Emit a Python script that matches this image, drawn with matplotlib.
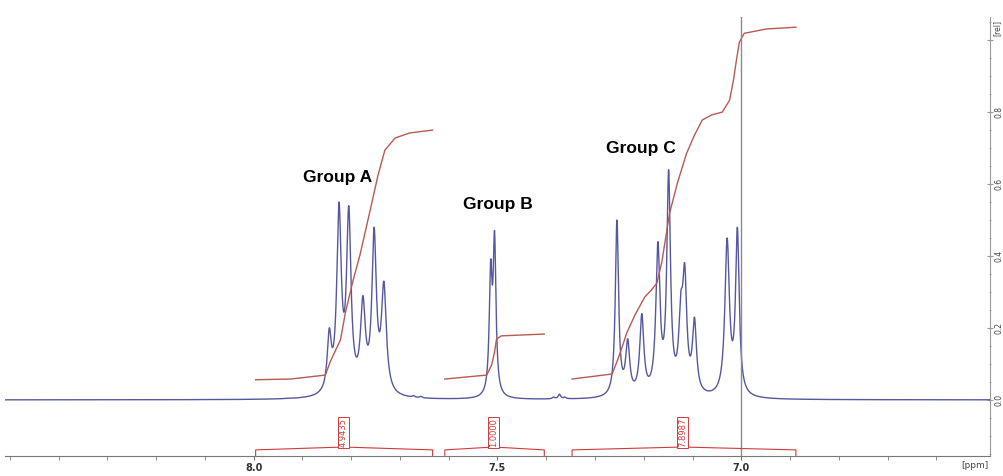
import numpy as np
import matplotlib.pyplot as plt

peak_ppm = [7.845, 7.825, 7.805, 7.776, 7.753, 7.733,
            7.514, 7.506,
            7.255, 7.233, 7.204, 7.171, 7.149, 7.124, 7.116, 7.096, 7.029, 7.008,
            7.672, 7.657, 7.385, 7.373, 7.362, 7.93]
peak_height = [0.20, 0.55, 0.54, 0.29, 0.48, 0.33,
               0.39, 0.47,
               0.50, 0.17, 0.24, 0.44, 0.64, 0.30, 0.38, 0.23, 0.45, 0.48,
               0.012, 0.010, 0.008, 0.016, 0.008, 0.005]
peak_width = [0.005, 0.0055, 0.0055, 0.006, 0.0055, 0.006,
              0.0035, 0.0035,
              0.004, 0.005, 0.005, 0.005, 0.0045, 0.005, 0.005, 0.005, 0.0055, 0.0045,
              0.003, 0.003, 0.003, 0.003, 0.003, 0.004]

# integral curves (ppm, rel)
int_a_ppm = [7.996, 7.924, 7.853, 7.843, 7.822, 7.812, 7.796, 7.782, 7.761, 7.745, 7.731, 7.710, 7.680, 7.633]
int_a_rel = [0.056, 0.058, 0.069, 0.106, 0.167, 0.242, 0.333, 0.403, 0.528, 0.625, 0.694, 0.728, 0.742, 0.750]
int_b_ppm = [7.608, 7.522, 7.512, 7.506, 7.502, 7.492, 7.404]
int_b_rel = [0.058, 0.069, 0.097, 0.133, 0.169, 0.178, 0.183]
int_c_ppm = [7.347, 7.265, 7.255, 7.245, 7.235, 7.218, 7.198, 7.184, 7.173, 7.163, 7.147, 7.131,
             7.112, 7.096, 7.080, 7.061, 7.039, 7.024, 7.016, 7.010, 7.004, 6.994, 6.949, 6.888]
int_c_rel = [0.058, 0.072, 0.106, 0.144, 0.186, 0.236, 0.286, 0.306, 0.325, 0.383, 0.519, 0.603,
             0.686, 0.736, 0.778, 0.792, 0.800, 0.833, 0.889, 0.944, 0.994, 1.019, 1.031, 1.036]

integral_start = [7.996, 7.608, 7.347]
integral_end = [7.633, 7.404, 6.888]
integral_label_ppm = [7.816, 7.508, 7.120]
integral_values = ["4.9435", "1.0000", "7.8987"]

group_names = ["Group A", "Group B", "Group C"]
group_ppm = [7.827, 7.500, 7.206]
group_rel = [0.619, 0.542, 0.700]

blue = "#5558a0"
red_int = "#b85a50"
red_lab = "#d03a3a"


def lorentz(x, x0, w):
    return w ** 2 / ((x - x0) ** 2 + w ** 2)


# amplitudes so that the summed line reaches the read heights at each peak
pp = np.array(peak_ppm)
ww = np.array(peak_width)
M = np.array([[lorentz(pi, pj, wj) for pj, wj in zip(pp, ww)] for pi in pp])
amps = np.clip(np.linalg.solve(M, np.array(peak_height)), 0, None)

x = np.linspace(8.51, 6.49, 8000)
spec = np.zeros_like(x)
for a, p, w in zip(amps, pp, ww):
    spec += a * lorentz(x, p, w)

fig = plt.figure(figsize=(10.04, 4.76), dpi=100)
ax = fig.add_axes([0.005, 0.042, 0.981, 0.922])

ax.plot(x, spec, color=blue, lw=1.0)
ax.plot(int_a_ppm, int_a_rel, color=red_int, lw=1.0)
ax.plot(int_b_ppm, int_b_rel, color=red_int, lw=1.0)
ax.plot(int_c_ppm, int_c_rel, color=red_int, lw=1.0)

ax.axvline(7.0, color="#8a8a8a", lw=1.0)

# integration brackets + values
for s, e, lp, val in zip(integral_start, integral_end, integral_label_ppm, integral_values):
    ax.plot([s, s, lp, e, e], [-0.156, -0.139, -0.131, -0.139, -0.156], color=red_lab, lw=0.8)
    ax.text(lp, -0.131, val, rotation=90, color=red_lab, fontsize=6, ha="center", va="bottom",
            bbox=dict(boxstyle="square,pad=0.1", fc="white", ec=red_lab, lw=0.7))

for name, gx, gy in zip(group_names, group_ppm, group_rel):
    ax.text(gx, gy, name, fontsize=12.5, fontweight="bold", family="Liberation Sans",
            ha="center", va="center")

ax.set_xlim(8.51, 6.49)
ax.set_ylim(-0.156, 1.064)

for s in ["top", "left"]:
    ax.spines[s].set_visible(False)
ax.spines["bottom"].set_color("#777777")
ax.spines["right"].set_color("#999999")

ax.set_xticks([8.0, 7.5, 7.0])
ax.set_xticks(np.arange(6.6, 8.51, 0.1), minor=True)
ax.set_xticklabels(["8.0", "7.5", "7.0"], fontsize=7, color="#333333", fontweight="bold")
ax.tick_params(axis="x", which="both", direction="out", length=3, color="#777777", pad=2)

ax.yaxis.tick_right()
ax.set_yticks([0.0, 0.2, 0.4, 0.6, 0.8, 1.0])
ax.set_yticks(np.arange(-0.15, 1.06, 0.05), minor=True)
ax.set_yticklabels(["0.0", "0.2", "0.4", "0.6", "0.8", ""], rotation=90, va="center", fontsize=5.5,
                   color="#444444")
ax.tick_params(axis="y", which="major", direction="inout", length=4, color="#999999", pad=1)
ax.tick_params(axis="y", which="minor", direction="inout", length=2, color="#999999")

ax.text(1.003, 0.975, "[rel]", transform=ax.transAxes, rotation=90, fontsize=5.5, color="#444444",
        ha="left", va="center")
ax.text(0.985, -0.022, "[ppm]", transform=ax.transAxes, fontsize=6.5, color="#444444",
        ha="center", va="center")

fig.savefig("out.png", dpi=100)
